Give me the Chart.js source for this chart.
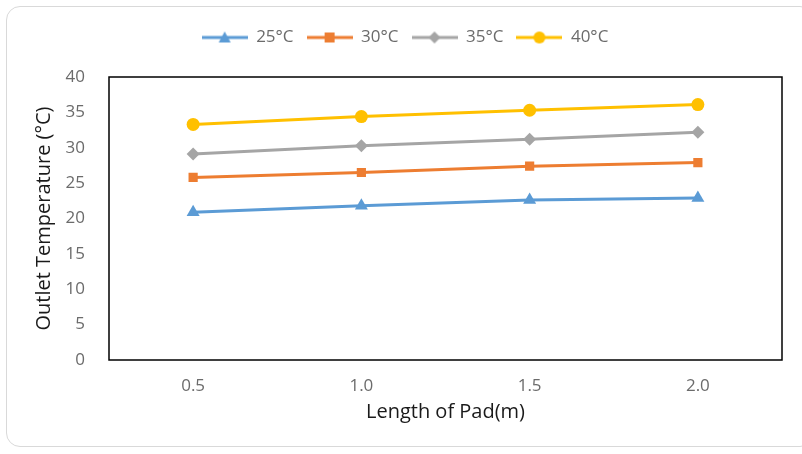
<!DOCTYPE html>
<html>
<head>
<meta charset="utf-8">
<script src="https://cdn.jsdelivr.net/npm/chart.js@4/dist/chart.umd.min.js"></script>
<style>
  html, body { margin:0; padding:0; background:#fff; }
  #wrap { position:relative; width:802px; height:454px; overflow:hidden; }
  #frame { position:absolute; left:6px; top:6px; width:808px; height:441px; border:1px solid #d9d9d9; border-radius:14px; box-sizing:border-box; }
  #chart { position:absolute; left:0; top:0; }
</style>
</head>
<body>
<div id="wrap">
  <div id="frame"></div>
  <canvas id="chart" width="802" height="454"></canvas>
</div>
<script>
// values
const lengths = ['0.5', '1.0', '1.5', '2.0'];
const series25 = [20.9, 21.8, 22.6, 22.9];
const series30 = [25.8, 26.5, 27.4, 27.9];
const series35 = [29.1, 30.3, 31.2, 32.2];
const series40 = [33.3, 34.4, 35.3, 36.1];
const yTicks = [0, 5, 10, 15, 20, 25, 30, 35, 40];

const FONT = "'Open Sans', sans-serif";
const TICK_COLOR = '#6b6b6b';

// legend swatch: line with the marker on top, like the spreadsheet legend
function swatch(color, style) {
  const c = document.createElement('canvas');
  c.width = 46; c.height = 14;
  const g = c.getContext('2d');
  g.strokeStyle = color; g.fillStyle = color; g.lineWidth = 3;
  g.beginPath(); g.moveTo(0, 7); g.lineTo(46, 7); g.stroke();
  g.beginPath();
  if (style === 'triangle') { g.moveTo(23, 1); g.lineTo(29, 12); g.lineTo(17, 12); }
  else if (style === 'rect') { g.rect(18, 2, 10, 10); }
  else if (style === 'rectRot') { g.moveTo(23, 1); g.lineTo(29, 7); g.lineTo(23, 13); g.lineTo(17, 7); }
  else { g.arc(23, 7, 6, 0, Math.PI * 2); }
  g.fill();
  return c;
}

function makeSet(label, data, color, style, radius) {
  return {
    label, data,
    borderColor: color, backgroundColor: color,
    borderWidth: 3,
    pointStyle: style, pointRadius: radius, pointHoverRadius: radius,
    pointBorderWidth: 0,
    legendSwatch: swatch(color, style),
  };
}

const plotFrame = {
  id: 'plotFrame',
  afterDraw(chart) {
    const a = chart.chartArea, ctx = chart.ctx;
    ctx.save();
    ctx.strokeStyle = '#000'; ctx.lineWidth = 1.5;
    ctx.strokeRect(a.left, a.top, a.right - a.left, a.bottom - a.top);
    ctx.restore();
  }
};

const legendHeight = {
  id: 'legendHeight',
  beforeInit(chart) {
    const orig = chart.legend.fit;
    chart.legend.fit = function () { orig.bind(chart.legend)(); this.height = 61; };
  }
};

new Chart(document.getElementById('chart'), {
  type: 'line',
  data: {
    labels: lengths,
    datasets: [
      makeSet('25°C', series25, '#5B9BD5', 'triangle', 7.5),
      makeSet('30°C', series30, '#ED7D31', 'rect', 6.5),
      makeSet('35°C', series35, '#A5A5A5', 'rectRot', 6.5),
      makeSet('40°C', series40, '#FFC000', 'circle', 6.5),
    ]
  },
  options: {
    responsive: false,
    animation: false,
    layout: { padding: { top: 16, right: 20, left: 28, bottom: 26 } },
    plugins: {
      legend: {
        position: 'top',
        labels: {
          usePointStyle: true,
          pointStyleWidth: 46,
          boxHeight: 14,
          padding: 13,
          color: TICK_COLOR,
          font: { family: FONT, size: 17 },
          generateLabels(chart) {
            return chart.data.datasets.map((ds, i) => ({
              text: ds.label,
              pointStyle: ds.legendSwatch,
              fillStyle: ds.borderColor,
              strokeStyle: ds.borderColor,
              fontColor: TICK_COLOR,
              lineWidth: 0,
              datasetIndex: i,
            }));
          }
        }
      },
      tooltip: { enabled: false }
    },
    scales: {
      x: {
        offset: true,
        grid: { display: false },
        border: { display: false },
        ticks: { color: TICK_COLOR, font: { family: FONT, size: 17 }, padding: 8 },
        title: { display: true, text: 'Length of Pad(m)', color: '#1a1a1a', font: { family: FONT, size: 20 }, padding: { top: 8 } },
        afterFit(s) { s.height = 68; }
      },
      y: {
        min: 0, max: 40,
        afterBuildTicks(s) { s.ticks = yTicks.map(v => ({ value: v })); },
        grid: { display: false },
        border: { display: false },
        ticks: { color: TICK_COLOR, font: { family: FONT, size: 17 }, padding: 16 },
        title: { display: true, text: 'Outlet Temperature (°C)', color: '#1a1a1a', font: { family: FONT, size: 20 } },
        afterFit(s) { s.width = 81; }
      }
    }
  },
  plugins: [plotFrame, legendHeight]
});
</script>
</body>
</html>
